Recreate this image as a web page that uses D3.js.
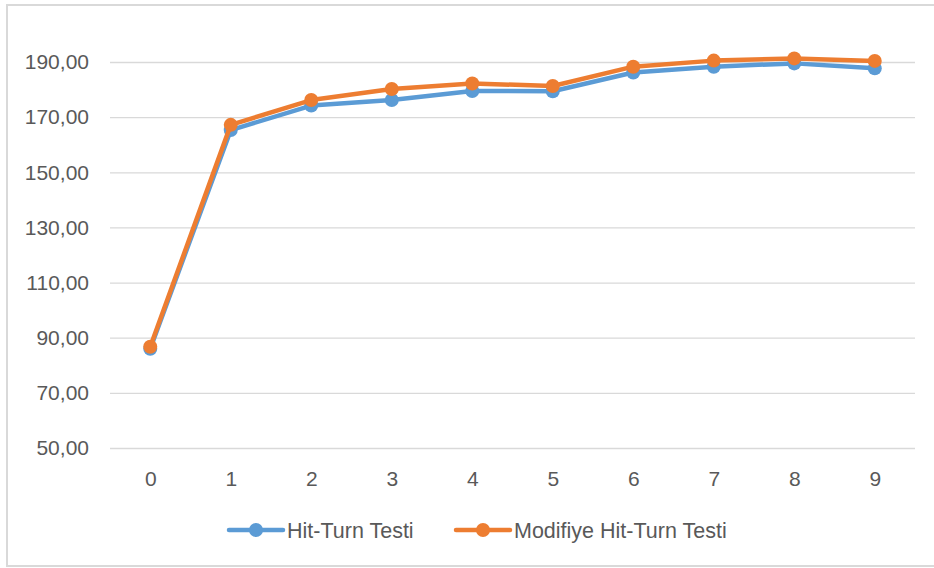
<!DOCTYPE html>
<html>
<head>
<meta charset="utf-8">
<script src="https://cdn.jsdelivr.net/npm/d3@7"></script>
<style>
  body { margin: 0; background: #fff; }
  svg { font-family: "Liberation Sans", Arial, sans-serif; }
  .tick text { fill: #595959; font-size: 21px; }
</style>
</head>
<body>
<svg width="934" height="568"></svg>
<script>
var categories = ["0", "1", "2", "3", "4", "5", "6", "7", "8", "9"];
var hitTurn = [86.0, 165.3, 174.2, 176.2, 179.5, 179.4, 186.2, 188.3, 189.5, 187.7];
var modHitTurn = [86.7, 167.2, 176.2, 180.2, 182.2, 181.3, 188.3, 190.5, 191.3, 190.4];
var yTicks = [50, 70, 90, 110, 130, 150, 170, 190];
var seriesNames = ["Hit-Turn Testi", "Modifiye Hit-Turn Testi"];
var colors = ["#5b9bd5", "#ed7d31"];

var svg = d3.select("svg");
var plotLeft = 110, plotRight = 915, plotTop = 62, plotBottom = 448;

// chart border
svg.append("rect")
  .attr("x", 7).attr("y", 5)
  .attr("width", 940).attr("height", 561)
  .attr("fill", "#fff")
  .attr("stroke", "#d9d9d9")
  .attr("stroke-width", 2);

var xScale = d3.scalePoint().domain(categories).range([plotLeft, plotRight]).padding(0.5);
var yScale = d3.scaleLinear().domain([50, 190]).range([plotBottom, plotTop]);

var trFormat = d3.formatLocale({decimal: ",", thousands: ".", grouping: [3], currency: ["", ""]}).format(".2f");

// y axis with gridlines
var yAxis = svg.append("g")
  .attr("transform", "translate(" + plotLeft + ",0)")
  .call(d3.axisLeft(yScale).tickValues(yTicks).tickFormat(trFormat).tickSize(-(plotRight - plotLeft)).tickPadding(21));
yAxis.select(".domain").remove();
yAxis.selectAll(".tick line").attr("stroke", "#d9d9d9").attr("stroke-width", 1.3);

// x axis labels
var xAxis = svg.append("g")
  .attr("transform", "translate(0," + plotBottom + ")")
  .call(d3.axisBottom(xScale).tickSize(0).tickPadding(23));
xAxis.select(".domain").remove();

var line = d3.line()
  .x(function(d, i) { return xScale(categories[i]); })
  .y(function(d) { return yScale(d); });

[hitTurn, modHitTurn].forEach(function(vals, k) {
  svg.append("path")
    .datum(vals)
    .attr("d", line)
    .attr("fill", "none")
    .attr("stroke", colors[k])
    .attr("stroke-width", 4.5)
    .attr("stroke-linejoin", "round");
  svg.selectAll(".dot" + k)
    .data(vals)
    .enter().append("circle")
    .attr("class", "dot" + k)
    .attr("cx", function(d, i) { return xScale(categories[i]); })
    .attr("cy", function(d) { return yScale(d); })
    .attr("r", 7)
    .attr("fill", colors[k]);
});

// legend
var legendX = [229, 456];
var legend = svg.selectAll(".legend")
  .data(seriesNames)
  .enter().append("g")
  .attr("class", "legend")
  .attr("transform", function(d, i) { return "translate(" + legendX[i] + ",530)"; });
legend.append("line")
  .attr("x1", 0).attr("x2", 54)
  .attr("stroke", function(d, i) { return colors[i]; })
  .attr("stroke-width", 4.5)
  .attr("stroke-linecap", "round");
legend.append("circle")
  .attr("cx", 27).attr("r", 7)
  .attr("fill", function(d, i) { return colors[i]; });
legend.append("text")
  .attr("x", 58).attr("dy", "0.35em")
  .attr("fill", "#595959")
  .style("font-size", "21.5px")
  .text(function(d) { return d; });
</script>
</body>
</html>
